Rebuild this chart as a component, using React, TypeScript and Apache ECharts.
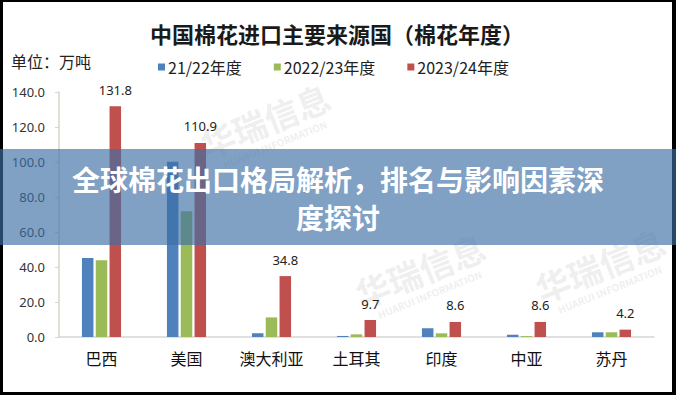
import React, { useEffect, useRef } from "react";
import * as echarts from "echarts";

const categories = ["巴西", "美国", "澳大利亚", "土耳其", "印度", "中亚", "苏丹"];
const season2122 = [45.1, 100.2, 2.1, 0.6, 5.0, 1.3, 2.7];
const season2223 = [43.8, 71.8, 11.2, 1.5, 2.1, 0.5, 2.7];
const season2324 = [131.8, 110.9, 34.8, 9.7, 8.6, 8.6, 4.2];
const seriesNames = ["21/22年度", "2022/23年度", "2023/24年度"];
const yTicks = { min: 0, max: 140, interval: 20 };

const titleText = "中国棉花进口主要来源国（棉花年度）";
const unitText = "单位：万吨";
const bannerLines = ["全球棉花出口格局解析，排名与影响因素深", "度探讨"];

export default function App() {
  const ref = useRef<HTMLDivElement>(null);
  useEffect(() => {
    document.body.style.margin = "0";
    const chart = echarts.init(ref.current!, undefined, { renderer: "svg" });
    const font = "'Noto Sans CJK SC', 'Noto Sans', sans-serif";
    const wm = (x: number, y: number) => ({
      type: "group",
      x,
      y,
      rotation: 0.38,
      z: 1,
      silent: true,
      children: [
        {
          type: "text",
          style: {
            text: "华瑞信息",
            x: 0,
            y: 0,
            fill: "rgba(170,170,170,0.2)",
            font: "bold 34px " + font,
            align: "center",
            verticalAlign: "middle",
          },
        },
        {
          type: "text",
          style: {
            text: "HUARUI INFORMATION",
            x: 0,
            y: 26,
            fill: "rgba(170,170,170,0.2)",
            font: "bold 10px " + font,
            align: "center",
            verticalAlign: "middle",
          },
        },
      ],
    });
    chart.setOption({
      animation: false,
      backgroundColor: "#ffffff",
      color: ["#4F81BD", "#9BBB59", "#C0504D"],
      title: {
        text: titleText,
        left: 332,
        top: 17,
        textAlign: "center",
        textStyle: {
          fontSize: 22,
          fontWeight: "bold",
          color: "#1a1a1a",
          fontFamily: "'Noto Sans CJK SC', serif",
        },
      },
      legend: {
        data: seriesNames,
        left: 153,
        top: 54,
        icon: "rect",
        itemWidth: 7,
        itemHeight: 7,
        itemGap: 32,
        textStyle: { fontSize: 16, color: "#222", fontFamily: font, padding: [0, 0, 0, -2] },
      },
      grid: { left: 59, right: 22, top: 92, bottom: 58, containLabel: false },
      xAxis: {
        type: "category",
        data: categories,
        axisLine: { lineStyle: { color: "#d6d6d6", width: 1.5 } },
        axisTick: { show: false },
        axisLabel: { fontSize: 16, color: "#111", margin: 13, fontFamily: font },
      },
      yAxis: {
        type: "value",
        min: yTicks.min,
        max: yTicks.max,
        interval: yTicks.interval,
        splitLine: { show: false },
        axisLine: { show: true, lineStyle: { color: "#d8d6c8", width: 1.5 } },
        axisTick: { show: true, length: 4, lineStyle: { color: "#d8d6c8" } },
        axisLabel: {
          fontSize: 13,
          color: "#333",
          margin: 14,
          fontFamily: "'Noto Sans', sans-serif",
          formatter: (v: number) => v.toFixed(1),
        },
      },
      series: [
        { name: seriesNames[0], type: "bar", data: season2122, barWidth: 11.5, barGap: "20%", z: 2 },
        { name: seriesNames[1], type: "bar", data: season2223, barWidth: 11.5, barGap: "20%", z: 2 },
        {
          name: seriesNames[2],
          type: "bar",
          data: season2324,
          barWidth: 11.5,
          barGap: "20%",
          z: 2,
          label: {
            show: true,
            position: "top",
            distance: 10,
            fontSize: 13,
            color: "#222",
            fontFamily: "'Noto Sans', sans-serif",
            formatter: (p: any) => Number(p.value).toFixed(1),
          },
        },
      ],
      graphic: [
        {
          type: "text",
          left: 11,
          top: 53,
          style: { text: unitText, fill: "#222", font: "16px " + font },
        },
        wm(265, 120),
        wm(420, 270),
        wm(600, 265),
        { type: "rect", shape: { x: 0, y: 0, width: 676, height: 2 }, style: { fill: "#000" }, z: 50 },
        { type: "rect", shape: { x: 0, y: 0, width: 3, height: 395 }, style: { fill: "#000" }, z: 50 },
        { type: "rect", shape: { x: 672, y: 0, width: 4, height: 395 }, style: { fill: "#000" }, z: 50 },
        { type: "rect", shape: { x: 0, y: 392, width: 676, height: 3 }, style: { fill: "#000" }, z: 50 },
        {
          type: "rect",
          shape: { x: 0, y: 149, width: 676, height: 96 },
          style: { fill: "rgba(60,110,165,0.65)" },
          z: 100,
        },
        {
          type: "text",
          x: 338,
          y: 179,
          z: 101,
          style: {
            text: bannerLines[0],
            fill: "#ffffff",
            font: "bold 28px " + font,
            lineHeight: 28,
            align: "center",
            verticalAlign: "middle",
          },
        },
        {
          type: "text",
          x: 338,
          y: 217,
          z: 101,
          style: {
            text: bannerLines[1],
            fill: "#ffffff",
            font: "bold 28px " + font,
            lineHeight: 28,
            align: "center",
            verticalAlign: "middle",
          },
        },
      ],
    });
    return () => chart.dispose();
  }, []);
  return <div ref={ref} style={{ width: 676, height: 395 }} />;
}
